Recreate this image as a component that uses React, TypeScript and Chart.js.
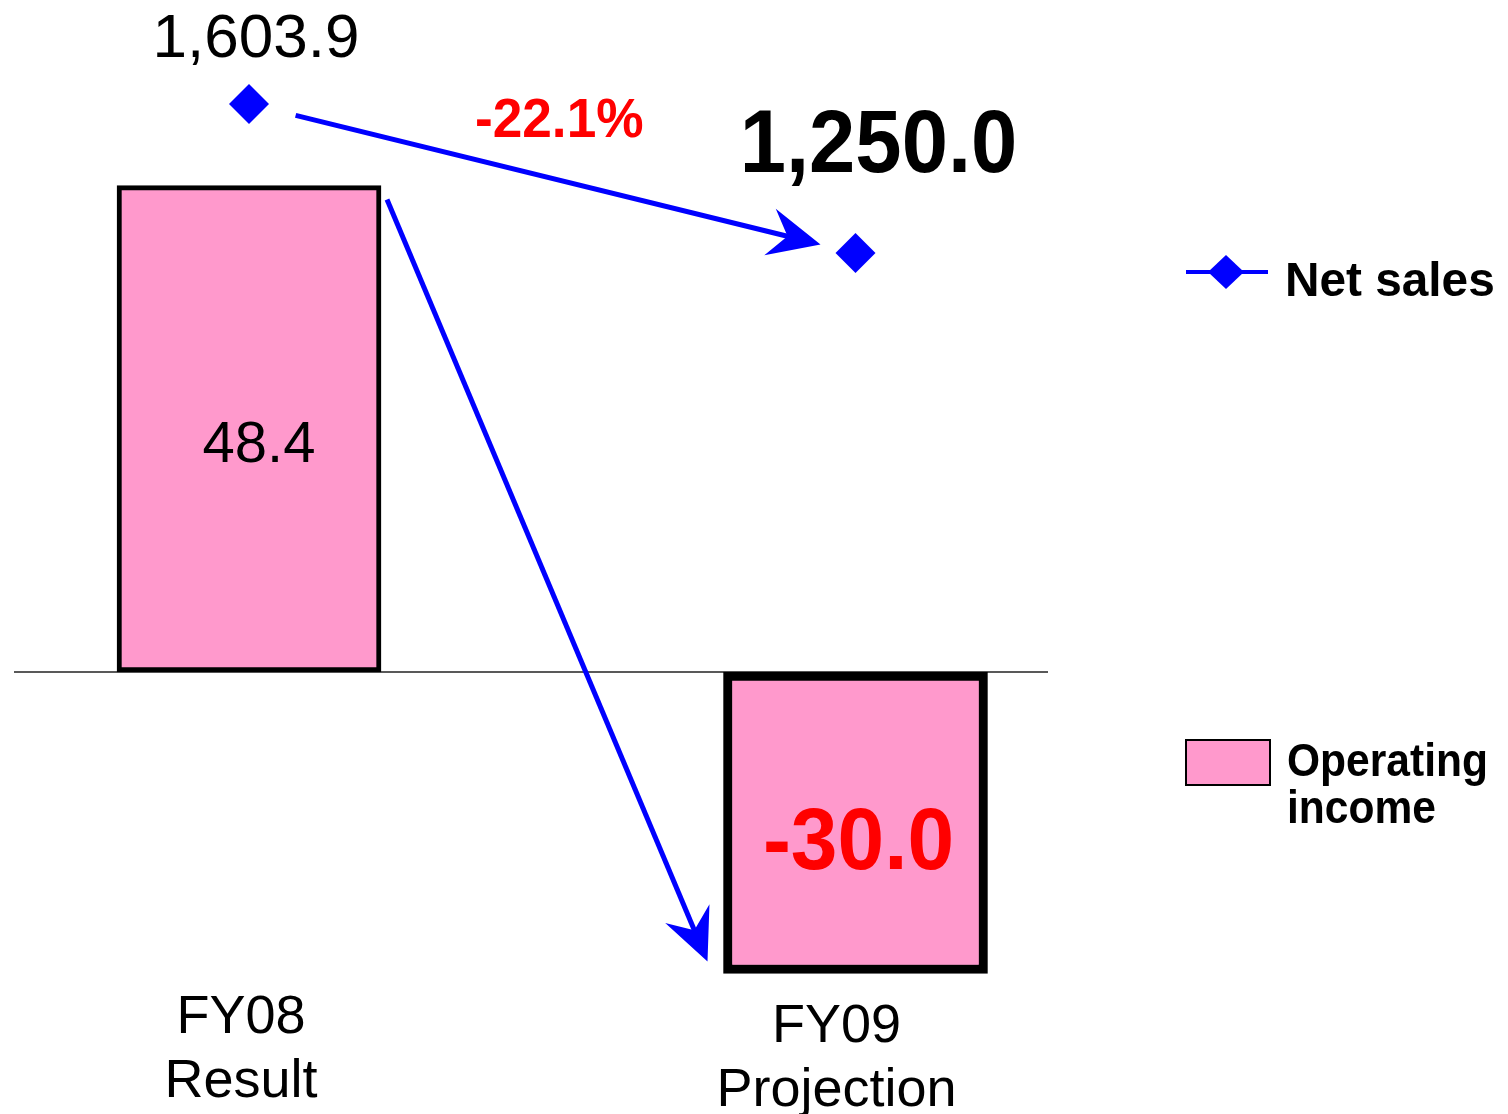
import React, { useEffect, useRef } from 'react';
import { Chart, registerables } from 'chart.js';

Chart.register(...registerables);

// ---- data ----
const categories: string[][] = [['FY08', 'Result'], ['FY09', 'Projection']];
const operatingIncome: number[] = [48.4, -30.0];
const netSales: number[] = [1603.9, 1250.0];
const seriesNames: string[] = ['Net sales', 'Operating income'];

// ---- styles ----
const PINK = '#FF99CC';
const BLUE = '#0000FF';
const RED = '#FF0000';
const FONT = '"Liberation Sans", Arial, Helvetica, sans-serif';

const fmt = (v: number) =>
  v.toLocaleString('en-US', { minimumFractionDigits: 1, maximumFractionDigits: 1 });

function drawText(
  ctx: CanvasRenderingContext2D,
  s: string,
  x: number,
  y: number,
  size: number,
  bold: boolean,
  color: string,
  align: CanvasTextAlign = 'center',
  sx = 1
) {
  ctx.save();
  ctx.font = `${bold ? 'bold ' : ''}${size}px ${FONT}`;
  ctx.fillStyle = color;
  ctx.textAlign = align;
  ctx.textBaseline = 'alphabetic';
  ctx.translate(x, y);
  ctx.scale(sx, 1);
  ctx.fillText(s, 0, 0);
  ctx.restore();
}

function drawArrow(ctx: CanvasRenderingContext2D, x0: number, y0: number, x1: number, y1: number) {
  const dx = x1 - x0;
  const dy = y1 - y0;
  const len = Math.hypot(dx, dy);
  const ux = dx / len;
  const uy = dy / len;
  const nx = -uy;
  const ny = ux;
  const L = 52;
  const W = 24;
  const N = 34;
  ctx.save();
  ctx.strokeStyle = BLUE;
  ctx.fillStyle = BLUE;
  ctx.lineWidth = 5;
  ctx.beginPath();
  ctx.moveTo(x0, y0);
  ctx.lineTo(x1 - ux * (N - 2), y1 - uy * (N - 2));
  ctx.stroke();
  ctx.beginPath();
  ctx.moveTo(x1, y1);
  ctx.lineTo(x1 - ux * L + nx * W, y1 - uy * L + ny * W);
  ctx.lineTo(x1 - ux * N, y1 - uy * N);
  ctx.lineTo(x1 - ux * L - nx * W, y1 - uy * L - ny * W);
  ctx.closePath();
  ctx.fill();
  ctx.restore();
}

function drawDiamond(ctx: CanvasRenderingContext2D, x: number, y: number, rx: number, ry: number) {
  ctx.beginPath();
  ctx.moveTo(x, y - ry);
  ctx.lineTo(x + rx, y);
  ctx.lineTo(x, y + ry);
  ctx.lineTo(x - rx, y);
  ctx.closePath();
  ctx.fill();
}

const decorPlugin = {
  id: 'decor',
  beforeDatasetsDraw(chart: any) {
    const { ctx, chartArea, scales } = chart;
    const y0 = scales.y.getPixelForValue(0);
    ctx.save();
    ctx.strokeStyle = '#222';
    ctx.lineWidth = 1.5;
    ctx.beginPath();
    ctx.moveTo(chartArea.left, y0);
    ctx.lineTo(chartArea.right, y0);
    ctx.stroke();
    ctx.restore();
  },
  afterDatasetsDraw(chart: any) {
    const { ctx } = chart;
    const pts = chart.getDatasetMeta(0).data;
    const bars = chart.getDatasetMeta(1).data;
    const p0 = pts[0];
    const p1 = pts[1];

    // Net sales arrow
    const dx = p1.x - p0.x;
    const dy = p1.y - p0.y;
    const len = Math.hypot(dx, dy);
    const ux = dx / len;
    const uy = dy / len;
    drawArrow(ctx, p0.x + ux * 48, p0.y + uy * 48, p1.x - ux * 36, p1.y - uy * 36);

    // Operating income arrow
    const b0 = bars[0];
    const b1 = bars[1];
    drawArrow(ctx, b0.x + b0.width / 2 + 6, b0.y + 14, b1.x - b1.width / 2 - 16, b1.y - 12);

    // Net sales labels
    drawText(ctx, fmt(netSales[0]), p0.x + 7, p0.y - 47, 62, false, '#000');
    drawText(ctx, fmt(netSales[1]), p1.x + 23, p1.y - 81, 89, true, '#000', 'center', 0.935);
    const change = ((netSales[1] - netSales[0]) / netSales[0]) * 100;
    drawText(ctx, `${change.toFixed(1)}%`, (p0.x + p1.x) / 2 + 7, (p0.y + p1.y) / 2 - 41, 56, true, RED, 'center', 0.95);

    // Operating income labels
    drawText(ctx, fmt(operatingIncome[0]), b0.x + 10, b0.base - 210, 58, false, '#000');
    drawText(ctx, fmt(operatingIncome[1]), b1.x + 3, b1.base + 197, 88, true, RED, 'center', 0.953);

    // Category labels
    const nudgeX = [-8, -19];
    const topY = [1033, 1042];
    bars.forEach((b: any, i: number) => {
      categories[i].forEach((line, j) => {
        drawText(ctx, line, b.x + nudgeX[i], topY[i] + j * 64, 54, false, '#000');
      });
    });

    // Legend
    ctx.save();
    ctx.strokeStyle = BLUE;
    ctx.fillStyle = BLUE;
    ctx.lineWidth = 4;
    ctx.beginPath();
    ctx.moveTo(1186, 272);
    ctx.lineTo(1268, 272);
    ctx.stroke();
    drawDiamond(ctx, 1226, 272, 18, 17);
    ctx.restore();
    drawText(ctx, seriesNames[0], 1285, 296, 48, true, '#000', 'left', 0.995);

    ctx.save();
    ctx.fillStyle = PINK;
    ctx.fillRect(1186, 740, 84, 45);
    ctx.strokeStyle = '#000';
    ctx.lineWidth = 2;
    ctx.strokeRect(1186, 740, 84, 45);
    ctx.restore();
    const words = seriesNames[1].split(' ');
    drawText(ctx, words[0], 1287, 776, 46, true, '#000', 'left', 0.925);
    drawText(ctx, words[1], 1287, 823, 46, true, '#000', 'left', 0.925);
  },
};

export default function App() {
  const ref = useRef<HTMLCanvasElement | null>(null);

  useEffect(() => {
    document.body.style.margin = '0';
    const canvas = ref.current;
    if (!canvas) return;
    const chart = new Chart(canvas, {
      type: 'bar',
      data: {
        datasets: [
          {
            type: 'line',
            label: seriesNames[0],
            data: netSales.map((v, i) => ({ x: i, y: v })),
            yAxisID: 'y2',
            showLine: false,
            pointStyle: 'rectRot',
            pointRadius: 20,
            pointBorderWidth: 0,
            backgroundColor: BLUE,
            borderColor: BLUE,
            order: 0,
          } as any,
          {
            type: 'bar',
            label: seriesNames[1],
            data: operatingIncome.map((v, i) => ({ x: i, y: v })),
            yAxisID: 'y',
            backgroundColor: PINK,
            borderColor: '#000',
            borderWidth: [5, 9],
            borderSkipped: false,
            barThickness: 264,
            order: 1,
          } as any,
        ],
      },
      options: {
        animation: false,
        responsive: false,
        maintainAspectRatio: false,
        layout: { autoPadding: false, padding: { left: 14, right: 460, top: 69, bottom: 45 } },
        scales: {
          x: { type: 'linear', min: -0.3875, max: 1.3174, offset: false, display: false },
          y: { min: -39.5, max: 60, display: false },
          y2: { min: -688, max: 1687, display: false, position: 'right' },
        },
        plugins: {
          legend: { display: false },
          tooltip: { enabled: false },
        },
      },
      plugins: [decorPlugin],
    });
    return () => chart.destroy();
  }, []);

  return (
    <div style={{ width: 1508, height: 1114, background: '#fff' }}>
      <canvas ref={ref} width={1508} height={1114} style={{ display: 'block' }} />
    </div>
  );
}
